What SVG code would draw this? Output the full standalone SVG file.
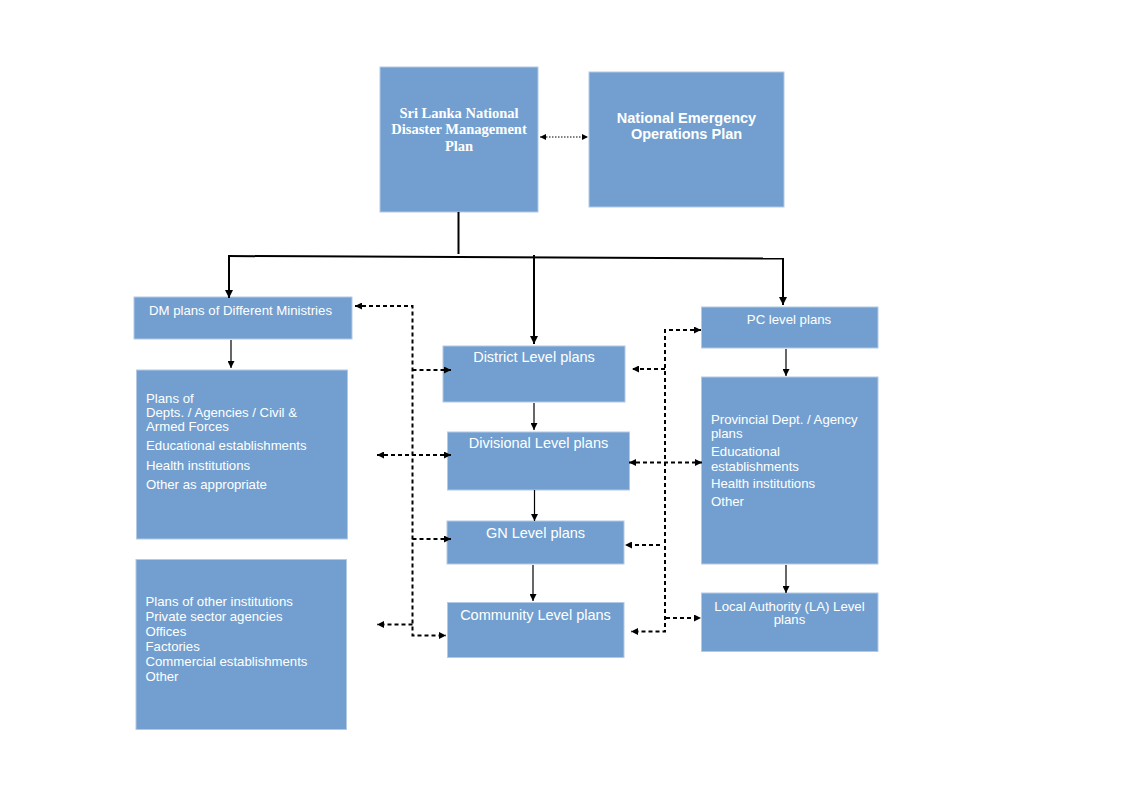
<svg xmlns="http://www.w3.org/2000/svg" width="1122" height="794" viewBox="0 0 1122 794">
<defs>
<style>
.box{fill:#729fcf;stroke:#b3c9e6;stroke-width:1}
.t{font-family:"Liberation Sans",Arial,sans-serif;font-size:13.2px;fill:#fff}
.tm{font-family:"Liberation Sans",Arial,sans-serif;font-size:14.5px;fill:#fff}
.tb{font-family:"Liberation Sans",Arial,sans-serif;font-size:14.5px;font-weight:bold;fill:#fff}
.ts{font-family:"Liberation Serif","Times New Roman",serif;font-size:14.5px;font-weight:bold;fill:#fff}
.solid{fill:none;stroke:#000;stroke-width:2}
.thin{fill:none;stroke:#000;stroke-width:1.2}
.dash{fill:none;stroke:#000;stroke-width:2;stroke-dasharray:4 3}
.dot{fill:none;stroke:#000;stroke-width:1;stroke-dasharray:1.5 1.5}
</style>
<marker id="ah" viewBox="0 0 8 8" refX="8" refY="4" markerWidth="8" markerHeight="8" markerUnits="userSpaceOnUse" orient="auto-start-reverse"><path d="M0,0 L8,4 L0,8 z" fill="#000"/></marker>
<marker id="ahs" viewBox="0 0 8 8" refX="8" refY="4" markerWidth="7" markerHeight="7" markerUnits="userSpaceOnUse" orient="auto-start-reverse"><path d="M0,0 L8,4 L0,8 z" fill="#000"/></marker>
<marker id="ahd" viewBox="0 0 8 8" refX="8" refY="4" markerWidth="6" markerHeight="6" markerUnits="userSpaceOnUse" orient="auto-start-reverse"><path d="M0,0 L8,4 L0,8 z" fill="#000"/></marker>
</defs>
<rect width="1122" height="794" fill="#fff"/>

<g id="sri-lanka-plan">
<rect class="box" x="380" y="67" width="158" height="145"/>
<text class="ts" text-anchor="middle"><tspan x="459" y="117.5">Sri Lanka National</tspan><tspan x="459" y="134">Disaster Management</tspan><tspan x="459" y="150.5">Plan</tspan></text>
</g>
<g id="national-emergency">
<rect class="box" x="589" y="72" width="195" height="135"/>
<text class="tb" text-anchor="middle"><tspan x="686.5" y="123">National Emergency</tspan><tspan x="686.5" y="139">Operations Plan</tspan></text>
</g>
<g id="dm-plans">
<rect class="box" x="134" y="297" width="218" height="42"/>
<text class="t" x="149" y="315">DM plans of Different Ministries</text>
</g>
<g id="plans-of-depts">
<rect class="box" x="136.5" y="370" width="211" height="169"/>
<text class="t"><tspan x="146" y="402.5">Plans of</tspan><tspan x="146" y="416.5">Depts. / Agencies / Civil &amp;</tspan><tspan x="146" y="431">Armed Forces</tspan><tspan x="146" y="450">Educational establishments</tspan><tspan x="146" y="469.5">Health institutions</tspan><tspan x="146" y="488.5">Other as appropriate</tspan></text>
</g>
<g id="other-institutions">
<rect class="box" x="136" y="559.5" width="210.5" height="170"/>
<text class="t"><tspan x="145.5" y="606">Plans of other institutions</tspan><tspan x="145.5" y="621">Private sector agencies</tspan><tspan x="145.5" y="636">Offices</tspan><tspan x="145.5" y="651">Factories</tspan><tspan x="145.5" y="666">Commercial establishments</tspan><tspan x="145.5" y="681">Other</tspan></text>
</g>
<g id="district">
<rect class="box" x="443" y="346" width="182" height="56"/>
<text class="tm" x="534" y="362" text-anchor="middle">District Level plans</text>
</g>
<g id="divisional">
<rect class="box" x="447.5" y="432" width="182" height="58"/>
<text class="tm" x="538.5" y="448" text-anchor="middle">Divisional Level plans</text>
</g>
<g id="gn">
<rect class="box" x="447" y="521" width="177" height="43"/>
<text class="tm" x="535.5" y="537.5" text-anchor="middle">GN Level plans</text>
</g>
<g id="community">
<rect class="box" x="447.5" y="602.5" width="176.5" height="55"/>
<text class="tm" x="535.5" y="619.5" text-anchor="middle">Community Level plans</text>
</g>
<g id="pc-level">
<rect class="box" x="701.5" y="307" width="176.5" height="41"/>
<text class="t" x="789" y="324" text-anchor="middle">PC level plans</text>
</g>
<g id="provincial">
<rect class="box" x="701.5" y="377" width="176.5" height="187"/>
<text class="t"><tspan x="711" y="423.5">Provincial Dept. / Agency</tspan><tspan x="711" y="438">plans</tspan><tspan x="711" y="456">Educational</tspan><tspan x="711" y="470.5">establishments</tspan><tspan x="711" y="488">Health institutions</tspan><tspan x="711" y="506">Other</tspan></text>
</g>
<g id="local-authority">
<rect class="box" x="701.5" y="593" width="176.5" height="58.5"/>
<text class="t" text-anchor="middle"><tspan x="789.5" y="610.5">Local Authority (LA) Level</tspan><tspan x="789.5" y="624">plans</tspan></text>
</g>

<g id="connectors">
<path class="solid" d="M458.5,212 V254"/>
<path class="solid" d="M228,256 L784,258.5"/>
<path class="solid" d="M229,256 V298" marker-end="url(#ah)"/>
<path class="solid" d="M534,255 V344" marker-end="url(#ah)"/>
<path class="solid" d="M783,258.5 V305" marker-end="url(#ah)"/>
<path class="thin" d="M231,340 V368" marker-end="url(#ahs)"/>
<path class="thin" d="M534,403 V430" marker-end="url(#ahs)"/>
<path class="thin" d="M534.5,490 V521" marker-end="url(#ahs)"/>
<path class="thin" d="M533,565 V601" marker-end="url(#ahs)"/>
<path class="thin" d="M786,349 V376" marker-end="url(#ahs)"/>
<path class="thin" d="M786,565 V593" marker-end="url(#ahs)"/>
<path class="dot" d="M540,137 H588" marker-start="url(#ahd)" marker-end="url(#ahd)"/>
<path class="dash" d="M355,306 H412.5 V635.5 H446" marker-start="url(#ahs)" marker-end="url(#ahs)"/>
<path class="dash" d="M412.5,370 H451" marker-end="url(#ahs)"/>
<path class="dash" d="M377,455 H451" marker-start="url(#ahs)" marker-end="url(#ahs)"/>
<path class="dash" d="M412.5,539 H451" marker-end="url(#ahs)"/>
<path class="dash" d="M412.5,624.5 H377" marker-end="url(#ahs)"/>
<path class="dash" d="M701,330 H665 V631.5 H631" marker-start="url(#ahs)" marker-end="url(#ahs)"/>
<path class="dash" d="M665,369 H632" marker-end="url(#ahs)"/>
<path class="dash" d="M629,462.5 H702" marker-start="url(#ahs)" marker-end="url(#ahs)"/>
<path class="dash" d="M660,545 H625" marker-end="url(#ahs)"/>
<path class="dash" d="M666,618 H701" marker-end="url(#ahs)"/>
</g>
</svg>
